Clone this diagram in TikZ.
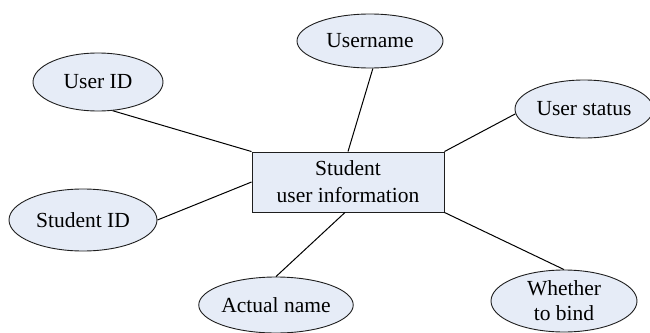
\documentclass[tikz,border=0pt]{standalone}
\usepackage{fontspec}
\setmainfont{Liberation Serif}
\usetikzlibrary{shapes.geometric}
\definecolor{entfill}{RGB}{230,236,247}
\definecolor{edgecol}{RGB}{30,30,30}
\tikzset{
  attr/.style={ellipse, draw=edgecol, fill=entfill, line width=0.9pt, inner sep=0pt,
    font=\fontsize{21.5}{25}\selectfont, align=center},
  entity/.style={rectangle, draw=edgecol, fill=entfill, line width=0.9pt, inner sep=0pt,
    minimum width=192pt, minimum height=60pt, font=\fontsize{21.5}{27}\selectfont, align=center},
  link/.style={draw=black, line width=1pt}
}
\begin{document}
\begin{tikzpicture}[x=1pt,y=-1pt]
\useasboundingbox (0,0) rectangle (650,332);
\node[entity] (rect) at (348,182) {Student\\user information};
\node[attr, minimum width=130pt, minimum height=58pt] (uid) at (98,82) {User ID};
\node[attr, minimum width=146pt, minimum height=54pt] (un) at (370,41) {Username};
\node[attr, minimum width=138pt, minimum height=58pt] (us) at (584,109) {User status};
\node[attr, minimum width=148pt, minimum height=62pt] (sid) at (83,220) {Student ID};
\node[attr, minimum width=146pt, minimum height=56pt] (an) at (276,305) {Actual name};
\node[attr, minimum width=146pt, minimum height=62pt] (wb) at (564,301) {Whether\\to bind};
\draw[link] (uid.-63) -- (rect.north west);
\draw[link] (un.-84) -- (rect.north);
\draw[link] (us.184) -- (rect.north east);
\draw[link] (sid.east) -- (rect.west);
\draw[link] (an.north) -- ([xshift=-3pt]rect.south);
\draw[link] (wb.north) -- (rect.south east);
\end{tikzpicture}
\end{document}
